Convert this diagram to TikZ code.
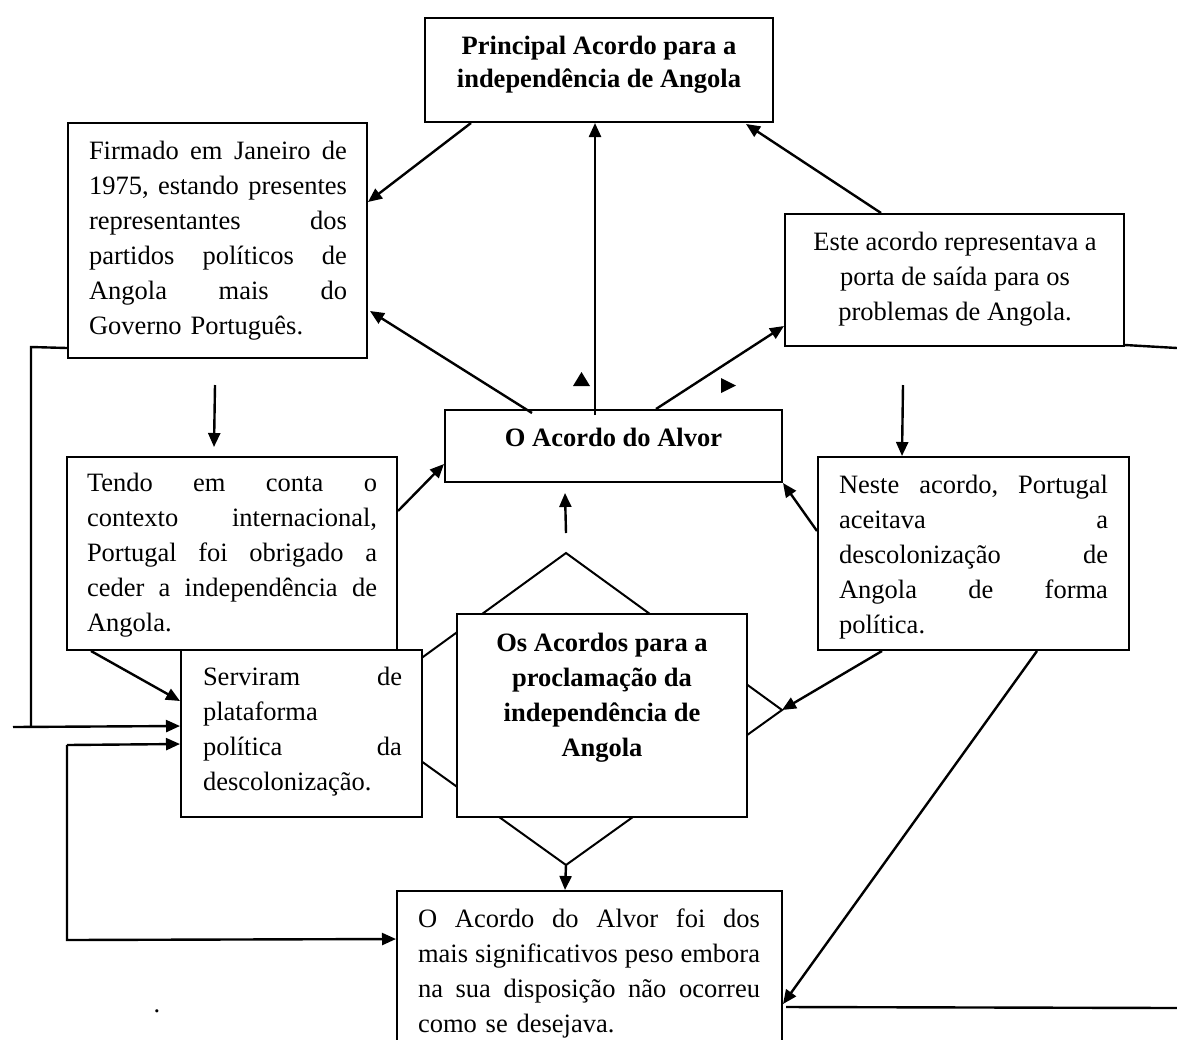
\documentclass[tikz,border=0pt]{standalone}
\usepackage{fontspec}
\setmainfont{Liberation Serif}
\usetikzlibrary{arrows.meta,calc}
\begin{document}
\begin{tikzpicture}[x=0.5pt,y=-0.5pt,
  box/.style={draw,line width=1pt,fill=white,inner sep=0pt},
  txt/.style={inner sep=0pt,font=\fontsize{13.25}{17.5}\selectfont},
  bold/.style={inner sep=0pt,font=\fontsize{13.25}{17.5}\selectfont\bfseries,align=center},
  arr/.style={line width=1.2pt,-{Triangle[length=7pt,width=6pt]}},
  ln/.style={line width=1.2pt}]
\useasboundingbox (0,0) rectangle (1177,1039);
\clip (0,0) rectangle (1177,1039);

% diamond behind the two central boxes
\coordinate (dT) at (566,553);
\coordinate (dR) at (782,710);
\coordinate (dB) at (566,865);
\coordinate (dL) at (350,710);
\draw[line width=1pt] (dT) -- (dR) -- (dB) -- (dL) -- cycle;

% boxes
\node[box,minimum width=174pt,minimum height=52pt] (top) at (599,70) {};
\node[box,minimum width=149.5pt,minimum height=117.5pt] (firm) at (217.5,240.5) {};
\node[box,minimum width=169.5pt,minimum height=66pt] (este) at (954.5,280) {};
\node[box,minimum width=168.5pt,minimum height=36pt] (alvor) at (613.5,446) {};
\node[box,minimum width=165pt,minimum height=96.5pt] (tendo) at (232,553.5) {};
\node[box,minimum width=155.5pt,minimum height=96.5pt] (neste) at (973.5,553.5) {};
\node[box,minimum width=120.5pt,minimum height=83.5pt] (serv) at (301.5,733.5) {};
\node[box,minimum width=145pt,minimum height=101.5pt] (procl) at (602,715.5) {};
\node[box,minimum width=192.5pt,minimum height=77pt] (final) at (589.5,968) {};

% texts
\node[bold,font=\fontsize{13.25}{16.5}\selectfont\bfseries] (top-t) at (599,65)
  {Principal Acordo para a\\ independência de Angola};
\node[txt,text width=129pt,align=left] (firm-t) at (218,241)
  {Firmado\hfill em\hfill Janeiro\hfill de\\
   1975,\hfill estando\hfill presentes\\
   representantes\hfill dos\\
   partidos\hfill políticos\hfill de\\
   Angola\hfill mais\hfill do\\
   Governo Português.};
\node[txt,align=center] (este-t) at (955,279)
  {Este acordo representava a\\ porta de saída para os\\ problemas de Angola.};
\node[bold] (alvor-t) at (613.5,437) {O Acordo do Alvor};
\node[txt,text width=145pt,align=left] (tendo-t) at (232,555)
  {Tendo\hfill em\hfill conta\hfill o\\
   contexto\hfill internacional,\\
   Portugal\hfill foi\hfill obrigado\hfill a\\
   ceder\hfill a\hfill independência\hfill de\\
   Angola.};
\node[txt,text width=134.5pt,align=left] (neste-t) at (973.5,557)
  {Neste\hfill acordo,\hfill Portugal\\
   aceitava\hfill a\\
   descolonização\hfill de\\
   Angola\hfill de\hfill forma\\
   política.};
\node[txt,text width=99.5pt,align=left] (serv-t) at (302.5,731.5)
  {Serviram\hfill de\\
   plataforma\\
   política\hfill da\\
   descolonização.};
\node[bold] (procl-t) at (602,698)
  {Os Acordos para a\\ proclamação da\\ independência de\\ Angola};
\node[txt,text width=171pt,align=left] (final-t) at (589,973)
  {O\hfill Acordo\hfill do\hfill Alvor\hfill foi\hfill dos\\
   mais\hfill significativos\hfill peso\hfill embora\\
   na\hfill sua\hfill disposição\hfill não\hfill ocorreu\\
   como se desejava.};
\node[txt] (dot) at (157,1011) {.};

% small pointers beside the Alvor connectors
\fill (573,386) -- (590,386) -- (581.5,372) -- cycle;
\fill (721,378) -- (736,385.5) -- (721,393) -- cycle;

% connectors around the top box
\draw[arr] ($(top.south west)+(47,0)$) -- ($(firm.north east)+(0,80)$);
\draw[arr] ($(alvor.north west)+(151,6)$) -- ($(top.south west)+(171,0)$);
\draw[arr] ($(este.north west)+(97,0)$) -- ($(top.south east)+(-28,1)$);
\draw[arr] ($(alvor.north west)+(88,4)$) -- ($(firm.north east)+(2,189)$);
\draw[arr] ($(alvor.north west)+(212,0)$) -- ($(este.north west)+(0,113)$);

% loose downward / upward arrows
\coordinate (d1) at (215,385);
\draw[arr] (d1) -- ($(tendo.north west)+(148,-9)$);
\coordinate (d2) at (903,385);
\draw[arr] (d2) -- ($(neste.north west)+(85,0)$);
\coordinate (d3) at (566,533);
\draw[arr] (d3) -- ($(alvor.south west)+(121,10)$);

% middle row into the Alvor box
\draw[arr] ($(tendo.north east)+(0,55)$) -- ($(alvor.south west)+(0,-19)$);
\draw[arr] ($(neste.north west)+(0,75)$) -- (alvor.south east);
\draw[arr] ($(tendo.south west)+(25,0)$) -- ($(serv.north west)+(0,52)$);

% left-hand feedback lines
\coordinate (l1) at (31,347);
\coordinate (l2) at (31,727);
\coordinate (l0) at (13,727);
\draw[ln] ($(firm.south west)+(0,-11)$) -- (l1) -- (l2);
\draw[arr] (l0) -- ($(serv.north west)+(0,77)$);
\coordinate (l3) at (67,745);
\coordinate (l4) at (67,940);
\draw[arr] (l3) -- ($(serv.north west)+(0,95)$);
\draw[arr] (l3) -- (l4) -- ($(final.north west)+(0,49)$);

% bottom connections
\draw[arr] (dB) -- ($(final.north west)+(169,0)$);
\draw[arr] ($(neste.south west)+(65,0)$) -- (dR);
\draw[arr] ($(neste.south west)+(220,0)$) -- ($(final.north east)+(0,114)$);

% lines leaving to the right edge
\coordinate (r1) at (1177,1008);
\draw[ln] ($(final.north east)+(3,117)$) -- (r1);
\coordinate (r2) at (1177,348);
\draw[ln] ($(este.south east)+(0,-2)$) -- (r2);
\end{tikzpicture}
\end{document}
